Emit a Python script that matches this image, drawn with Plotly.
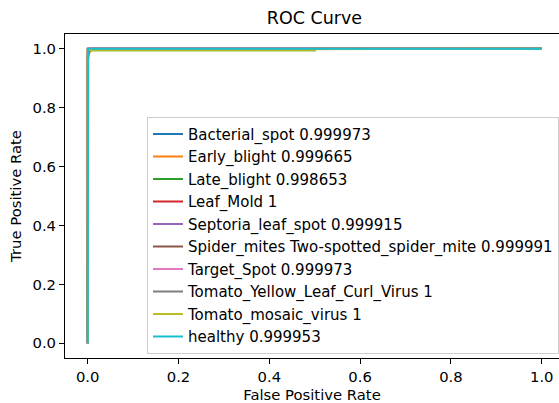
import plotly.graph_objects as go

classes = ["Bacterial_spot", "Early_blight", "Late_blight", "Leaf_Mold",
           "Septoria_leaf_spot", "Spider_mites Two-spotted_spider_mite",
           "Target_Spot", "Tomato_Yellow_Leaf_Curl_Virus", "Tomato_mosaic_virus", "healthy"]
auc_labels = ["0.999973", "0.999665", "0.998653", "1", "0.999915", "0.999991",
              "0.999973", "1", "1", "0.999953"]
colors = ["#1f77b4", "#ff7f0e", "#2ca02c", "#d62728", "#9467bd",
          "#8c564b", "#e377c2", "#7f7f7f", "#bcbd22", "#17becf"]

fpr_bacterial = [0, 0, 0.002, 0.01, 1]
tpr_bacterial = [0, 0.985, 0.995, 1, 1]
fpr_early = [0, 0, 0.003, 0.008, 1]
tpr_early = [0, 0.96, 0.985, 0.997, 1]
fpr_late = [0, 0, 0.004, 0.5, 0.5, 1]
tpr_late = [0, 0.975, 0.995, 0.995, 1, 1]
fpr_leafmold = [0, 0, 1]
tpr_leafmold = [0, 1, 1]
fpr_septoria = [0, 0, 0.003, 1]
tpr_septoria = [0, 0.99, 1, 1]
fpr_spider = [0, 0, 0.001, 1]
tpr_spider = [0, 0.995, 1, 1]
fpr_target = [0, 0, 0.002, 1]
tpr_target = [0, 0.99, 1, 1]
fpr_tylcv = [0, 0, 1]
tpr_tylcv = [0, 1, 1]
fpr_mosaic = [0, 0, 0.002, 0.5, 0.5, 1]
tpr_mosaic = [0, 0.99, 0.995, 0.995, 1, 1]
fpr_healthy = [0, 0, 0.001, 1]
tpr_healthy = [0, 0.995, 1, 1]

fprs = [fpr_bacterial, fpr_early, fpr_late, fpr_leafmold, fpr_septoria,
        fpr_spider, fpr_target, fpr_tylcv, fpr_mosaic, fpr_healthy]
tprs = [tpr_bacterial, tpr_early, tpr_late, tpr_leafmold, tpr_septoria,
        tpr_spider, tpr_target, tpr_tylcv, tpr_mosaic, tpr_healthy]

x_ticks = [0.0, 0.2, 0.4, 0.6, 0.8, 1.0]
y_ticks = [0.0, 0.2, 0.4, 0.6, 0.8, 1.0]

fig = go.Figure()
for name, auc, c, fx, ty in zip(classes, auc_labels, colors, fprs, tprs):
    fig.add_trace(go.Scatter(x=fx, y=ty, mode="lines", name=f"{name} {auc}",
                             line=dict(color=c, width=2)))

font = "DejaVu Sans, sans-serif"
fig.update_layout(
    width=559, height=403,
    margin=dict(l=65, r=0, t=34, b=45, autoexpand=False),
    paper_bgcolor="white", plot_bgcolor="white",
    font=dict(family=font, size=15, color="black"),
    title=dict(text="ROC Curve", x=0.5625, xanchor="center", y=0.955, yanchor="middle",
               font=dict(family=font, size=17.5, color="black")),
    legend=dict(x=1, xanchor="right", y=0.013, yanchor="bottom",
                bgcolor="rgba(255,255,255,0.8)", bordercolor="#cccccc", borderwidth=1,
                font=dict(family=font, size=15, color="black"), tracegroupgap=0),
    showlegend=True,
)
fig.update_xaxes(range=[-0.05, 1.038], tickvals=x_ticks, ticktext=[f"{v:.1f}" for v in x_ticks],
                 showgrid=False, zeroline=False, showline=True, mirror=True, automargin=False,
                 linecolor="black", linewidth=1, ticks="outside", ticklen=5, tickcolor="black",
                 tickfont=dict(size=14.8),
                 title=dict(text="False Positive Rate", standoff=8, font=dict(size=14.8)))
fig.update_yaxes(range=[-0.05, 1.05], tickvals=y_ticks, ticktext=[f"{v:.1f}" for v in y_ticks],
                 showgrid=False, zeroline=False, showline=True, mirror=False, automargin=False,
                 linecolor="black", linewidth=1, ticks="outside", ticklen=5, tickcolor="black",
                 tickfont=dict(size=14.8),
                 title=dict(text="True Positive Rate", standoff=7, font=dict(size=14.8)))

fig.write_html("out.html", config={"displayModeBar": False},
               post_script="document.body.style.margin='0px';")
